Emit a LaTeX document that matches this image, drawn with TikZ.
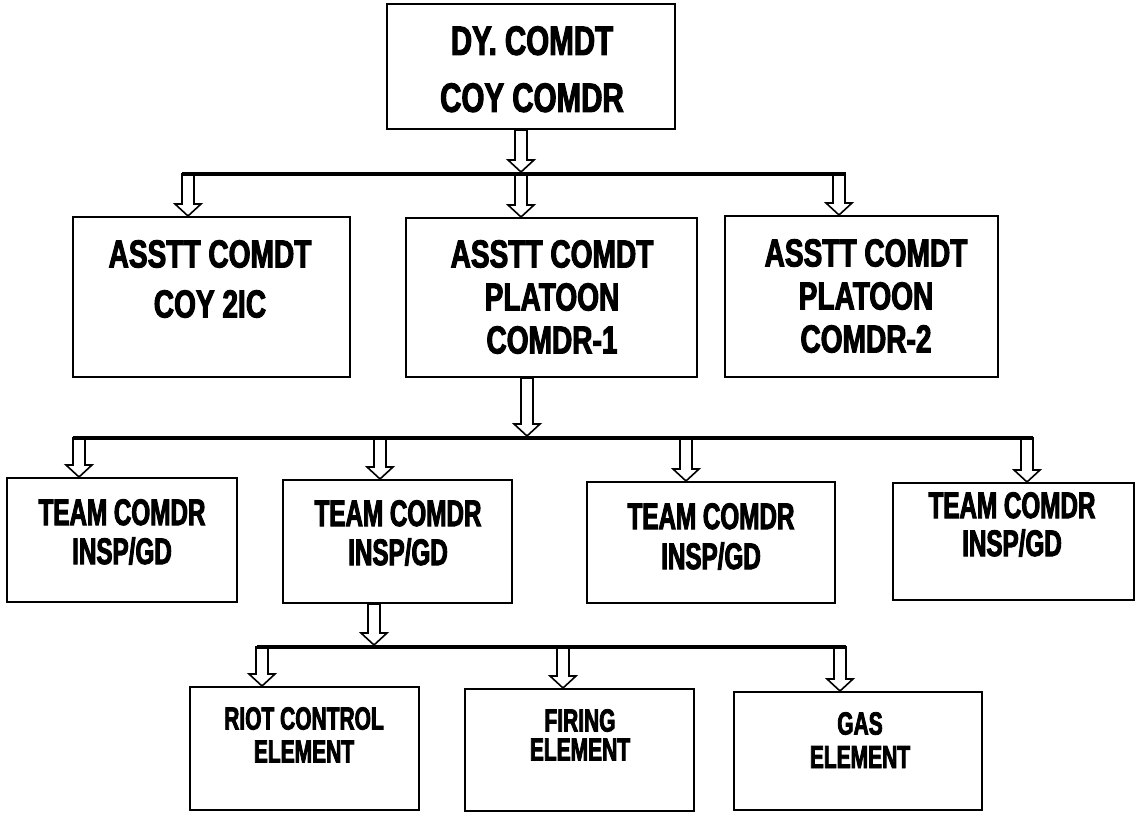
\documentclass[tikz,border=0pt]{standalone}
\usepackage{fontspec}
\newfontfamily\widefont{Liberation Sans}[FakeStretch=0.72,FakeBold=2.5]
\newfontfamily\narrowfont{Liberation Sans}[FakeStretch=0.655,FakeBold=2.5]
\usetikzlibrary{calc}
% hollow block arrow: x position, start, tip
\newcommand{\blkarrow}[3]{%
  \draw[blkarrow] let \p3=(#1,0), \p1=(#2), \p2=(#3) in
    (\x3-6pt,\y1) -- (\x3-6pt,\y2+12pt) -- (\x3-13pt,\y2+12pt) -- (\x3,\y2)
    -- (\x3+13pt,\y2+12pt) -- (\x3+6pt,\y2+12pt) -- (\x3+6pt,\y1) -- cycle;}
\begin{document}
\begin{tikzpicture}
    [x=1pt,y=-1pt,
     box/.style={draw=black,line width=2pt,inner sep=0pt},
     lbl/.style={inner sep=0pt,anchor=north,align=center},
     bigtext/.style={lbl,font=\widefont\bfseries\fontsize{39}{#1}\selectfont},
     teamtext/.style={lbl,font=\narrowfont\bfseries\fontsize{37}{#1}\selectfont},
     elemtext/.style={lbl,font=\narrowfont\bfseries\fontsize{32}{#1}\selectfont},
     blkarrow/.style={draw=black,fill=white,line width=1.6pt,line join=miter},
     bar/.style={draw=black,line width=4pt}]
    \useasboundingbox (0,0) rectangle (1136,812);
    % boxes
    \node [box,minimum width=288pt,minimum height=125pt] (dycomdt) at (531,66.5) {};
    \node [box,minimum width=277pt,minimum height=160pt] (coy2ic) at (211.5,297) {};
    \node [box,minimum width=291pt,minimum height=159pt] (plcomdr1) at (551.5,297.5) {};
    \node [box,minimum width=273pt,minimum height=161pt] (plcomdr2) at (861.5,296.5) {};
    \node [box,minimum width=230pt,minimum height=124pt] (team1) at (122,540) {};
    \node [box,minimum width=229pt,minimum height=123pt] (team2) at (397.5,541.5) {};
    \node [box,minimum width=248pt,minimum height=121pt] (team3) at (711,542.5) {};
    \node [box,minimum width=241pt,minimum height=117pt] (team4) at (1013.5,541.5) {};
    \node [box,minimum width=229pt,minimum height=123pt] (riot) at (304.5,748.5) {};
    \node [box,minimum width=229pt,minimum height=122pt] (firing) at (579.5,750) {};
    \node [box,minimum width=248pt,minimum height=118pt] (gas) at (858,751) {};
    % texts
    \node [lbl,font=\widefont\bfseries\fontsize{41}{57}\selectfont] (dytext) at (532,26) {DY. COMDT\\COY COMDR};
    \node [bigtext=50] (coytext) at (210,240) {ASSTT COMDT\\COY 2IC};
    \node [bigtext=43] (pl1text) at (552,240) {ASSTT COMDT\\PLATOON\\COMDR-1};
    \node [bigtext=43] (pl2text) at (866,239) {ASSTT COMDT\\PLATOON\\COMDR-2};
    \node [teamtext=39] (tm1text) at (122,499) {TEAM COMDR\\INSP/GD};
    \node [teamtext=39] (tm2text) at (398,500) {TEAM COMDR\\INSP/GD};
    \node [teamtext=40] (tm3text) at (711,503) {TEAM COMDR\\INSP/GD};
    \node [teamtext=38] (tm4text) at (1012,492) {TEAM COMDR\\INSP/GD};
    \node [elemtext=33] (riottext) at (304,707) {RIOT CONTROL\\ELEMENT};
    \node [elemtext=29] (firetext) at (580,709) {FIRING\\ELEMENT};
    \node [elemtext=33.5] (gastext) at (860,712) {GAS\\ELEMENT};
    % bar ends
    \coordinate (bar1w) at (182,174);
    \coordinate (bar1e) at (846,174);
    \coordinate (bar2w) at (73,438);
    \coordinate (bar2e) at (1033,438);
    \coordinate (bar3w) at (257,647);
    \coordinate (bar3e) at (846,647);
    % arrows
    \blkarrow{521}{dycomdt.south}{[yshift=2pt]bar1w}
    \foreach \ax/\nm in {188/coy2ic,521/plcomdr1,839/plcomdr2}
      {\blkarrow{\ax}{bar1w}{\nm.north}}
    \blkarrow{527}{plcomdr1.south}{[yshift=2pt]bar2w}
    \foreach \ax/\nm in {79/team1,380/team2,686/team3,1027/team4}
      {\blkarrow{\ax}{bar2w}{\nm.north}}
    \blkarrow{374}{team2.south}{[yshift=2pt]bar3w}
    \foreach \ax/\nm in {262/riot,563/firing,840/gas}
      {\blkarrow{\ax}{bar3w}{\nm.north}}
    \draw [bar] (bar1w) -- (bar1e);
    \draw [bar] (bar2w) -- (bar2e);
    \draw [bar] (bar3w) -- (bar3e);
  \end{tikzpicture}
\end{document}
